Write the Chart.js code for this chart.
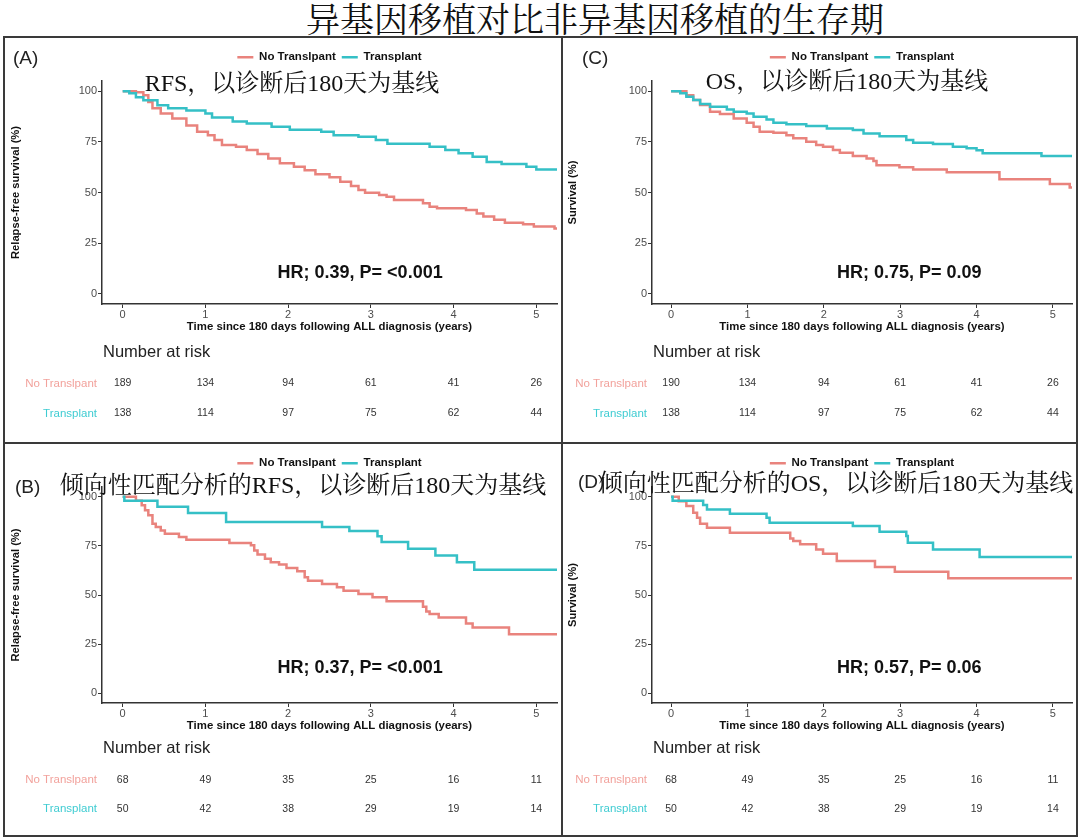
<!DOCTYPE html>
<html>
<head>
<meta charset="utf-8">
<script src="https://cdn.jsdelivr.net/npm/chart.js@4.4.1/dist/chart.umd.min.js"></script>
<style>
  body { margin: 0; background: #fff; }
  #page { position: relative; width: 1080px; height: 840px; overflow: hidden; font-family: "Liberation Sans", Arial, sans-serif; }
  .line { position: absolute; background: #3a3a3a; }
  canvas { position: absolute; }
  .txt { position: absolute; white-space: nowrap; line-height: 1; transform: translate(-50%, -50%); }
  .lbl { position: absolute; white-space: nowrap; line-height: 1; transform: translateY(-50%); font-size: 19px; color: #222; }
  .sub { font-family: "Liberation Serif", "Noto Serif CJK SC", "Noto Sans CJK SC", serif; font-size: 24px; color: #111; }
  #title { font-family: "Noto Serif CJK SC", "Noto Sans CJK SC", serif; font-size: 34px; color: #111; }
</style>
</head>
<body>
<div id="page">
  <div id="title" class="txt" style="left:595px;top:18px">异基因移植对比非异基因移植的生存期</div>

  <canvas id="chartA" width="555" height="402" style="left:5px;top:39px"></canvas>
  <canvas id="chartC" width="511" height="402" style="left:564px;top:39px"></canvas>
  <canvas id="chartB" width="555" height="389" style="left:5px;top:445px"></canvas>
  <canvas id="chartD" width="511" height="389" style="left:564px;top:445px"></canvas>

  <!-- panel frames -->
  <div class="line" style="left:3px;top:36px;width:1075px;height:2px"></div>
  <div class="line" style="left:3px;top:835px;width:1075px;height:2px"></div>
  <div class="line" style="left:3px;top:36px;width:2px;height:801px"></div>
  <div class="line" style="left:1076px;top:36px;width:2px;height:801px"></div>
  <div class="line" style="left:561px;top:36px;width:2px;height:801px"></div>
  <div class="line" style="left:3px;top:442px;width:1075px;height:2px"></div>

  <div class="lbl" style="left:13px;top:57px">(A)</div>
  <div class="lbl" style="left:582px;top:57px">(C)</div>
  <div class="lbl" style="left:15px;top:486px">(B)</div>
  <div class="lbl" style="left:578px;top:481px">(D)</div>

  <div class="txt sub" style="left:292px;top:83px">RFS，以诊断后180天为基线</div>
  <div class="txt sub" style="left:847px;top:81px">OS，以诊断后180天为基线</div>
  <div class="txt sub" style="left:303px;top:485px">倾向性匹配分析的RFS，以诊断后180天为基线</div>
  <div class="txt sub" style="left:836px;top:483px">倾向性匹配分析的OS，以诊断后180天为基线</div>
</div>

<script>
const RED = "#E9837D";
const TEAL = "#35C0C6";
const RED_LABEL = "#F2A29C";
const TEAL_LABEL = "#3FCCD2";
const FONT = "'Liberation Sans', Arial, sans-serif";

const xTicks = [0, 1, 2, 3, 4, 5];
const yTicks = [0, 25, 50, 75, 100];
const riskTimes = [0, 1, 2, 3, 4, 5];
const xTitle = "Time since 180 days following ALL diagnosis (years)";

// (A) RFS, full cohort
const rfsTxTime = [0, 0.08, 0.16, 0.25, 0.42, 0.55, 0.77, 1.0, 1.08, 1.33, 1.5, 1.8, 2.02, 2.4, 2.55, 2.85, 3.06, 3.2, 3.71, 3.9, 4.06, 4.23, 4.4, 4.58, 4.88, 5.0, 5.25];
const rfsTxSurv = [100, 99, 97, 95.5, 93, 91.5, 90.5, 89, 87, 85, 84, 82.4, 81, 80, 78.3, 77.5, 75.9, 74, 72.6, 71, 69.3, 67.6, 65, 64, 62.7, 61.4, 61.4];
const rfsNoTime = [0, 0.16, 0.25, 0.31, 0.36, 0.46, 0.6, 0.77, 0.9, 1.03, 1.11, 1.2, 1.37, 1.5, 1.63, 1.76, 1.9, 2.07, 2.2, 2.33, 2.5, 2.63, 2.76, 2.85, 2.93, 3.1, 3.19, 3.28, 3.63, 3.71, 3.8, 4.15, 4.28, 4.36, 4.49, 4.62, 4.84, 4.97, 5.22, 5.25];
const rfsNoSurv = [100, 99.5, 98, 94.7, 91.5, 89, 86.5, 83, 80, 78.3, 75.9, 73.4, 72.6, 71, 69, 66.8, 64.4, 62.7, 61, 59, 57.5, 55.3, 53.2, 51.2, 49.9, 48.8, 47.9, 46.3, 44.7, 43, 42.2, 41.4, 39.7, 38.1, 36.5, 35.1, 34.3, 33.2, 32.2, 32.2];
const rfsRiskNo = [189, 134, 94, 61, 41, 26];
const rfsRiskTx = [138, 114, 97, 75, 62, 44];

// (C) OS, full cohort
const osTxTime = [0, 0.12, 0.2, 0.29, 0.38, 0.51, 0.73, 0.82, 0.99, 1.08, 1.25, 1.34, 1.51, 1.77, 2.04, 2.38, 2.52, 2.73, 3.08, 3.17, 3.43, 3.69, 3.87, 4.0, 4.08, 4.85, 5.25];
const osTxSurv = [100, 98.9, 97.2, 95.6, 93.6, 92.3, 91, 89.8, 89, 87.4, 86, 84.4, 83.7, 82.8, 81.6, 80.8, 79.1, 77.8, 75.9, 74.5, 73.9, 72.6, 71.8, 70.9, 69.3, 68, 68];
const osNoTime = [0, 0.2, 0.29, 0.38, 0.51, 0.64, 0.82, 0.99, 1.08, 1.16, 1.34, 1.51, 1.6, 1.77, 1.9, 1.99, 2.12, 2.21, 2.38, 2.56, 2.65, 2.69, 2.99, 3.17, 3.61, 4.3, 4.96, 5.22, 5.25];
const osNoSurv = [100, 98, 95.6, 93.1, 89.8, 88.7, 86.5, 84.4, 82.4, 80, 79.5, 78.3, 76.7, 75, 73.4, 72.6, 71, 69.6, 68, 66.8, 65.5, 63.5, 62.4, 61.4, 60, 56.5, 54.2, 52.5, 52.5];
const osRiskNo = [190, 134, 94, 61, 41, 26];
const osRiskTx = [138, 114, 97, 75, 62, 44];

// (B) RFS, propensity matched
const psRfsTxTime = [0, 0.02, 0.42, 0.79, 1.25, 2.41, 2.74, 3.08, 3.13, 3.45, 3.78, 4.04, 4.25, 5.25];
const psRfsTxSurv = [100, 98, 94.9, 91.8, 87.2, 84.6, 82.6, 79.9, 77, 73.5, 70.1, 66.7, 62.8, 62.8];
const psRfsNoTime = [0, 0.16, 0.23, 0.27, 0.31, 0.36, 0.4, 0.46, 0.51, 0.68, 0.77, 1.29, 1.55, 1.59, 1.63, 1.72, 1.79, 1.89, 1.98, 2.11, 2.2, 2.24, 2.41, 2.59, 2.67, 2.85, 3.02, 3.19, 3.63, 3.67, 3.71, 3.82, 4.15, 4.23, 4.67, 5.25];
const psRfsNoSurv = [100, 98, 95.7, 93.2, 90.6, 86.3, 84.6, 82.9, 81.2, 79.5, 78.2, 76.5, 75.3, 72.7, 70.6, 68.4, 66.7, 65.5, 63.8, 62.1, 59, 57.3, 55.6, 53.9, 52.2, 50.5, 48.8, 46.8, 44, 41.6, 40.3, 38.6, 35.5, 33.4, 30, 30];
const psRfsRiskNo = [68, 49, 35, 25, 16, 11];
const psRfsRiskTx = [50, 42, 38, 29, 19, 14];

// (D) OS, propensity matched
const psOsTxTime = [0, 0.02, 0.42, 0.47, 0.77, 1.25, 1.29, 2.38, 2.73, 3.08, 3.1, 3.43, 4.04, 5.25];
const psOsTxSurv = [100, 98, 95.8, 93.6, 91.4, 89.3, 86.8, 85.1, 82.2, 80, 76.6, 73.2, 69.3, 69.3];
const psOsNoTime = [0, 0.1, 0.2, 0.29, 0.34, 0.38, 0.47, 0.77, 1.56, 1.6, 1.69, 1.9, 1.99, 2.17, 2.67, 2.93, 3.63, 5.25];
const psOsNoSurv = [100, 97.8, 95.3, 91.9, 89.3, 86.3, 84.2, 81.7, 78.8, 77.5, 75.8, 73.2, 71, 67.3, 64.2, 61.9, 58.5, 58.5];
const psOsRiskNo = [68, 49, 35, 25, 16, 11];
const psOsRiskTx = [50, 42, 38, 29, 19, 14];

function toPts(t, s) {
  return t.map((v, i) => ({ x: v, y: s[i] }));
}

// ggplot-like legend sits a little higher than Chart.js puts it
const legendLift = {
  id: "legendLift",
  afterLayout(chart) {
    if (chart.legend) { chart.legend.top -= 8; chart.legend.bottom -= 8; }
  }
};

function riskTable(o) {
  return {
    id: "riskTable",
    afterDraw(chart) {
      const { ctx, chartArea } = chart;
      const xs = chart.scales.x;
      const ys = chart.scales.y;
      ctx.save();
      ctx.textBaseline = "middle";

      // HR annotation at data coordinates
      ctx.font = "bold 18px " + FONT;
      ctx.fillStyle = "#111";
      ctx.textAlign = "center";
      ctx.fillText(o.hr, xs.getPixelForValue(o.hrAt[0]), ys.getPixelForValue(o.hrAt[1]));

      ctx.font = "16.5px " + FONT;
      ctx.fillStyle = "#222";
      ctx.textAlign = "left";
      ctx.fillText("Number at risk", chartArea.left + 1, chartArea.bottom + o.rowY[0]);

      const rows = [
        { label: "No Translpant", color: RED_LABEL, n: o.riskNo },
        { label: "Transplant", color: TEAL_LABEL, n: o.riskTx }
      ];
      rows.forEach((r, i) => {
        const y = chartArea.bottom + o.rowY[i + 1];
        ctx.font = "11.5px " + FONT;
        ctx.fillStyle = r.color;
        ctx.textAlign = "right";
        ctx.fillText(r.label, chartArea.left - 5, y);
        ctx.font = "10.5px " + FONT;
        ctx.fillStyle = "#333";
        ctx.textAlign = "center";
        r.n.forEach((n, j) => ctx.fillText(String(n), xs.getPixelForValue(riskTimes[j]), y));
      });
      ctx.restore();
    }
  };
}

function panel(id, o) {
  const axisGrid = { display: true, drawOnChartArea: false, drawTicks: true, tickLength: 4, tickColor: "#333", tickWidth: 1 };
  const axisBorder = { display: true, color: "#333", width: 1.5 };
  new Chart(document.getElementById(id), {
    type: "line",
    data: {
      datasets: [
        { label: "Transplant", data: toPts(o.txT, o.txS), borderColor: TEAL, backgroundColor: TEAL, borderWidth: 2.5, pointRadius: 0, stepped: true },
        { label: "No Translpant", data: toPts(o.noT, o.noS), borderColor: RED, backgroundColor: RED, borderWidth: 2.5, pointRadius: 0, stepped: true }
      ]
    },
    options: {
      responsive: false,
      animation: false,
      devicePixelRatio: 1,
      layout: { padding: { left: 2, right: 3, top: 14.5, bottom: o.padB } },
      plugins: {
        tooltip: { enabled: false },
        legend: {
          position: "top",
          fullSize: false,
          labels: {
            usePointStyle: true,
            pointStyle: "line",
            pointStyleWidth: 16,
            padding: 6,
            color: "#111",
            font: { family: FONT, size: 11.5, weight: "bold" },
            sort: (a, b) => b.datasetIndex - a.datasetIndex
          }
        }
      },
      scales: {
        x: {
          type: "linear",
          min: -0.25,
          max: 5.25,
          afterBuildTicks: (s) => { s.ticks = xTicks.map((v) => ({ value: v })); },
          afterFit: (s) => { s.height = 32; },
          ticks: { autoSkip: false, maxRotation: 0, padding: 0, color: "#4D4D4D", font: { family: FONT, size: 11 } },
          grid: axisGrid,
          border: axisBorder,
          title: { display: true, text: xTitle, color: "#111", padding: { top: 0, bottom: 2 }, font: { family: FONT, size: 11.4, weight: "bold" } }
        },
        y: {
          type: "linear",
          min: -5,
          max: 105,
          afterBuildTicks: (s) => { s.ticks = yTicks.map((v) => ({ value: v })); },
          afterFit: (s) => { s.width = o.yW; },
          ticks: { autoSkip: false, padding: 1, color: "#4D4D4D", font: { family: FONT, size: 11 } },
          grid: axisGrid,
          border: axisBorder,
          title: { display: true, text: o.yTitle, color: "#111", padding: { top: o.yTitlePad, bottom: 0 }, font: { family: FONT, size: 11.2, weight: "bold" } }
        }
      }
    },
    plugins: [legendLift, riskTable(o)]
  });
}

panel("chartA", {
  txT: rfsTxTime, txS: rfsTxSurv, noT: rfsNoTime, noS: rfsNoSurv,
  riskNo: rfsRiskNo, riskTx: rfsRiskTx,
  yTitle: "Relapse-free survival (%)", yW: 95, yTitlePad: 2, padB: 105,
  hr: "HR; 0.39, P= <0.001", hrAt: [2.87, 10.3], rowY: [48, 79.5, 109.5]
});
panel("chartC", {
  txT: osTxTime, txS: osTxSurv, noT: osNoTime, noS: osNoSurv,
  riskNo: osRiskNo, riskTx: osRiskTx,
  yTitle: "Survival (%)", yW: 86, yTitlePad: 0, padB: 105,
  hr: "HR; 0.75, P= 0.09", hrAt: [3.12, 10.3], rowY: [48, 79.5, 109.5]
});
panel("chartB", {
  txT: psRfsTxTime, txS: psRfsTxSurv, noT: psRfsNoTime, noS: psRfsNoSurv,
  riskNo: psRfsRiskNo, riskTx: psRfsRiskTx,
  yTitle: "Relapse-free survival (%)", yW: 95, yTitlePad: 2, padB: 99,
  hr: "HR; 0.37, P= <0.001", hrAt: [2.87, 12.8], rowY: [45, 77, 106]
});
panel("chartD", {
  txT: psOsTxTime, txS: psOsTxSurv, noT: psOsNoTime, noS: psOsNoSurv,
  riskNo: psOsRiskNo, riskTx: psOsRiskTx,
  yTitle: "Survival (%)", yW: 86, yTitlePad: 0, padB: 99,
  hr: "HR; 0.57, P= 0.06", hrAt: [3.12, 12.8], rowY: [45, 77, 106]
});
</script>
</body>
</html>
